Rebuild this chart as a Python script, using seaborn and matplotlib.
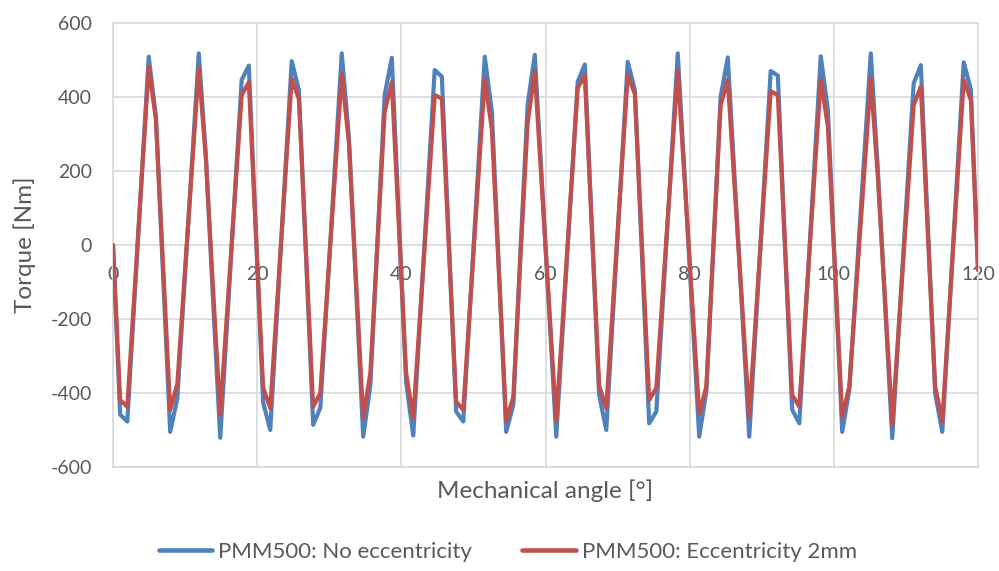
import numpy as np
import pandas as pd
import matplotlib
matplotlib.use("Agg")
import matplotlib.pyplot as plt
from matplotlib.lines import Line2D
import seaborn as sns

# ---- data ----
# 122 equally spaced samples spanning 0..120 degrees
angle_deg = np.linspace(0, 120, 122)

torque_no_ecc = [
    0, -458, -477, -148, 180, 509, 348, -78, -505, -415,
    -104, 207, 518, 240, -150, -521, -199, 124, 446, 485,
    30, -425, -500, -168, 165, 497, 419, -30, -486, -440,
    -120, 200, 518, 290, -115, -518, -380, 12, 405, 506,
    68, -370, -515, -186, 144, 473, 455, 2, -450, -477,
    -148, 180, 509, 360, -72, -505, -432, -16, 380, 514,
    170, -174, -518, -198, 121, 441, 488, 40, -405, -500,
    -168, 163, 495, 419, -30, -482, -450, -127, 196, 518,
    173, -173, -518, -395, 3, 401, 507, 165, -177, -518,
    -189, 141, 470, 458, -5, -445, -482, -151, 179, 510,
    366, -70, -505, -391, -88, 215, 518, 200, -160, -522,
    -200, 120, 437, 486, 43, -400, -505, -172, 161, 494,
    420, -65,
]

torque_ecc_2mm = [
    0, -419, -437, -131, 176, 482, 340, -53, -446, -375,
    -90, 194, 479, 230, -120, -459, -171, 117, 405, 440,
    28, -385, -441, -144, 153, 450, 395, -20, -437, -400,
    -113, 175, 462, 276, -96, -468, -346, 7, 360, 440,
    47, -346, -468, -177, 114, 405, 396, -13, -423, -446,
    -148, 150, 449, 312, -82, -477, -410, -30, 330, 469,
    154, -162, -477, -177, 124, 424, 459, 40, -380, -441,
    -141, 159, 459, 409, -5, -419, -387, -100, 186, 473,
    163, -147, -457, -382, 0, 378, 446, 143, -160, -464,
    -171, 123, 416, 405, 0, -405, -437, -142, 152, 447,
    320, -72, -464, -382, -105, 172, 450, 180, -150, -486,
    -198, 90, 378, 428, 23, -382, -477, -169, 139, 446,
    392, -68,
]

series_names = ["PMM500: No eccentricity", "PMM500: Eccentricity 2mm"]
series_colors = ["#4F81BD", "#C0504D"]
x_ticks = [0, 20, 40, 60, 80, 100, 120]
y_ticks = [-600, -400, -200, 0, 200, 400, 600]
x_title = "Mechanical angle [°]"
y_title = "Torque [Nm]"

# ---- build long table ----
df = pd.concat([
    pd.DataFrame({"angle": angle_deg, "torque": torque_no_ecc, "series": series_names[0]}),
    pd.DataFrame({"angle": angle_deg, "torque": torque_ecc_2mm, "series": series_names[1]}),
], ignore_index=True)

sns.set_theme(style="white")
plt.rcParams['font.family'] = ['Lato', 'DejaVu Sans']
plt.rcParams['axes.unicode_minus'] = False

text_col = "#595959"
grid_col = "#D9D9D9"

fig = plt.figure(figsize=(9.99, 5.71), dpi=100)
ax = fig.add_axes([0.1131, 0.1821, 0.8659, 0.7776])

sns.lineplot(data=df, x="angle", y="torque", hue="series", hue_order=series_names,
             palette=series_colors, linewidth=3.0, estimator=None, sort=False,
             legend=False, ax=ax, zorder=3)

ax.set_xlim(0, 120)
ax.set_ylim(-600, 600)
ax.set_xticks(x_ticks)
ax.set_yticks(y_ticks)
ax.set_xticklabels([])
ax.tick_params(axis="x", length=0)
ax.tick_params(axis="y", length=0, pad=15, labelsize=14, labelcolor=text_col)
ax.grid(True, color=grid_col, linewidth=1.2, zorder=0)
ax.set_axisbelow(True)
for sp in ax.spines.values():
    sp.set_color(grid_col)
    sp.set_linewidth(1.2)

# category labels next to the zero line
sec = ax.secondary_xaxis(0.5)
sec.set_alignment("bottom")
sec.set_xticks(x_ticks)
sec.set_xticklabels([str(t) for t in x_ticks])
sec.tick_params(length=0, pad=15, labelsize=14, labelcolor=text_col)
for sp in sec.spines.values():
    sp.set_visible(False)

ax.set_xlabel(x_title, fontsize=17.5, color=text_col, va="top")
ax.xaxis.set_label_coords(0.5, -0.027)
ax.set_ylabel(y_title, fontsize=17.5, color=text_col)
ax.yaxis.set_label_coords(-0.089, 0.5)

handles = [Line2D([0], [0], color=c, lw=3.3) for c in series_colors]
fig.legend(handles, series_names, loc="center", bbox_to_anchor=(0.5085, 0.033),
           ncol=2, frameon=False, fontsize=16, handlelength=2.4,
           columnspacing=2.25, handletextpad=0.27, labelcolor=text_col)

fig.savefig("out.png", dpi=100)
